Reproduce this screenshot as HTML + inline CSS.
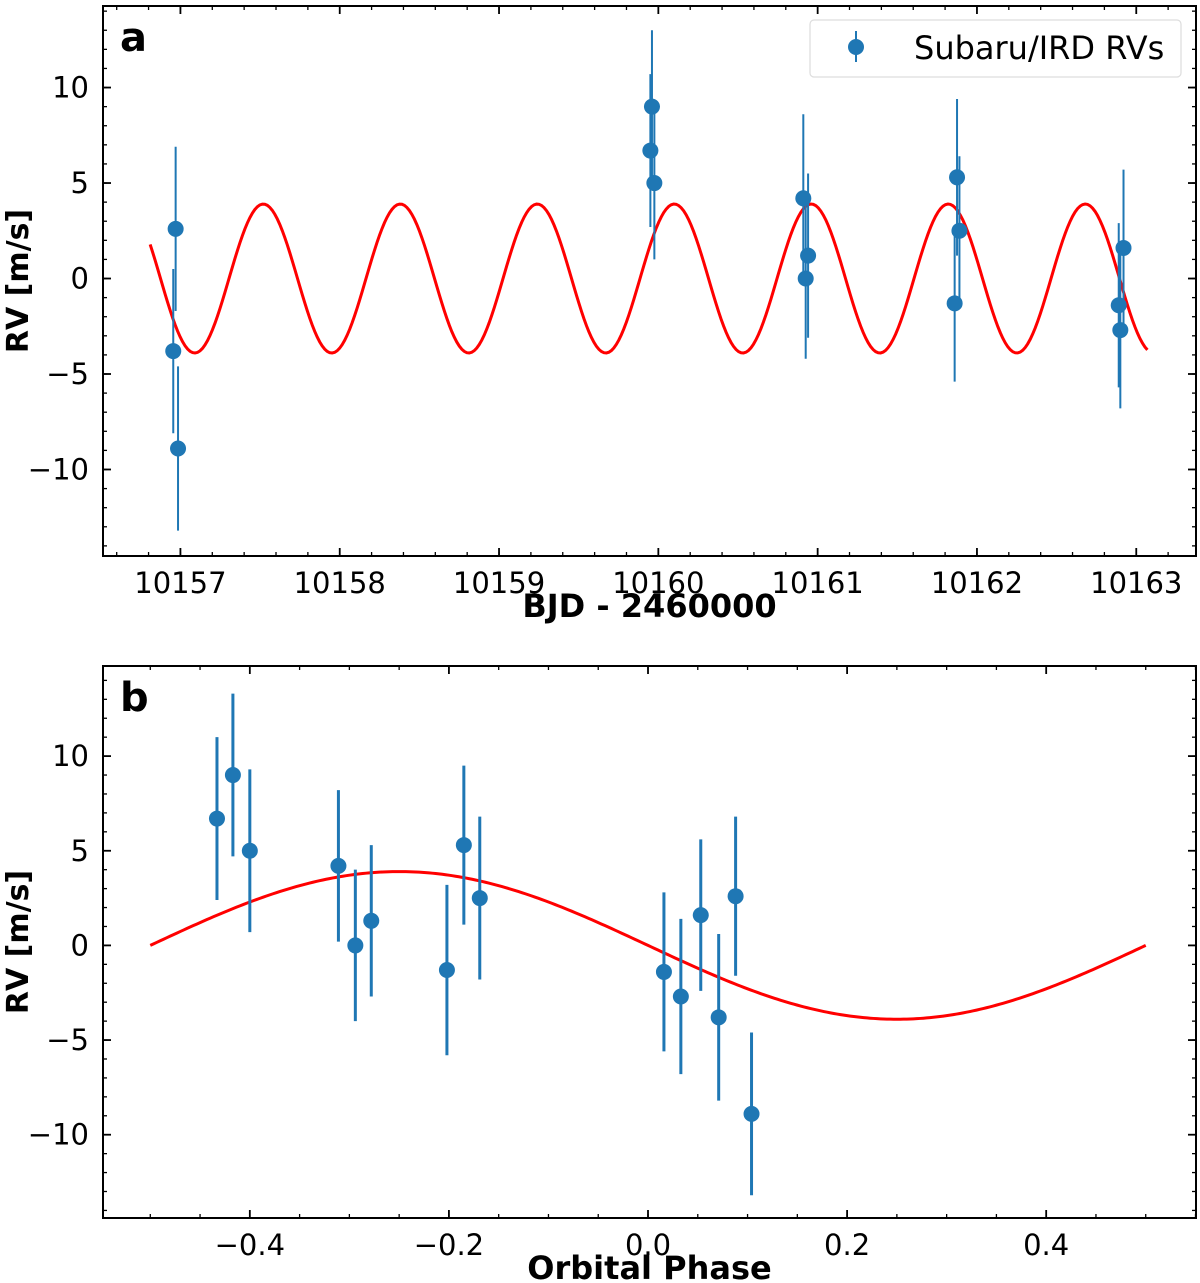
<!DOCTYPE html>
<html><head><meta charset="utf-8"><style>
body{margin:0;background:#fff;}
svg{display:block;font-family:"DejaVu Sans","Liberation Sans",sans-serif;}
</style></head><body>
<svg id="fig" width="1200" height="1283" viewBox="0 0 1200 1283" xmlns="http://www.w3.org/2000/svg"></svg>
<script>
// Panel a data
const aTimes=[10156.97,10156.955,10156.985,10159.95,10159.96,10159.975,10160.91,10160.94,10160.925,10161.86,10161.875,10161.89,10162.89,10162.90,10162.92];
const aRV=[2.6,-3.8,-8.9,6.7,9.0,5.0,4.2,1.2,0.0,-1.3,5.3,2.5,-1.4,-2.7,1.6];
const aErr=[4.3,4.3,4.3,4.0,4.0,4.0,4.4,4.3,4.2,4.1,4.1,3.9,4.3,4.1,4.1];
const aXTicks=[10157,10158,10159,10160,10161,10162,10163];
const yTicks=[-10,-5,0,5,10];
const model={K:3.9,P:0.86,tPeak:10157.52,tStart:10156.81,tEnd:10163.07};
// Panel b data
const bPhase=[-0.433,-0.417,-0.400,-0.311,-0.294,-0.278,-0.202,-0.185,-0.169,0.016,0.033,0.053,0.071,0.088,0.104];
const bRV=[6.7,9.0,5.0,4.2,0.0,1.3,-1.3,5.3,2.5,-1.4,-2.7,1.6,-3.8,2.6,-8.9];
const bErr=[4.3,4.3,4.3,4.0,4.0,4.0,4.5,4.2,4.3,4.2,4.1,4.0,4.4,4.2,4.3];
const bXTicks=[-0.4,-0.2,0.0,0.2,0.4];

const NS="http://www.w3.org/2000/svg";
const svg=document.getElementById('fig');
function mk(tag,attrs,parent){const e=document.createElementNS(NS,tag);for(const k in attrs)e.setAttribute(k,attrs[k]);(parent||svg).appendChild(e);return e;}
const BLUE="#1f77b4";
function fmt(v,dec){const s=Math.abs(v).toFixed(dec);return (v<0?"\u2212":"")+s;}

function panel(o){
  const g=mk('g',{});
  
  
  const X=v=>o.L+(v-o.xmin)/(o.xmax-o.xmin)*(o.R-o.L);
  const Y=v=>o.B-(v-o.ymin)/(o.ymax-o.ymin)*(o.B-o.T);
  for(let v=Math.ceil(o.xmin/o.xminor)*o.xminor;v<=o.xmax;v+=o.xminor){
    const x=X(v);
    mk('line',{x1:x,x2:x,y1:o.B,y2:o.B-4,stroke:'#000','stroke-width':1.3},g);
    mk('line',{x1:x,x2:x,y1:o.T,y2:o.T+4,stroke:'#000','stroke-width':1.3},g);
  }
  for(let v=Math.ceil(o.ymin);v<=o.ymax;v+=1){
    const y=Y(v);
    mk('line',{x1:o.L,x2:o.L+4,y1:y,y2:y,stroke:'#000','stroke-width':1.3},g);
    mk('line',{x1:o.R,x2:o.R-4,y1:y,y2:y,stroke:'#000','stroke-width':1.3},g);
  }
  o.xticks.forEach(v=>{
    const x=X(v);
    const t=mk('line',{x1:x,x2:x,y1:o.B,y2:o.B-8,stroke:'#000','stroke-width':1.8},g);
    
    
    mk('line',{x1:x,x2:x,y1:o.T,y2:o.T+8,stroke:'#000','stroke-width':1.8},g);
    const lb=mk('text',{x:x,y:o.B+37,'font-size':29,'text-anchor':'middle',fill:'#000'},g);
    lb.textContent=fmt(v,o.xdec);
    
    
  });
  yTicks.forEach(v=>{
    const y=Y(v);
    mk('line',{x1:o.L,x2:o.L+8,y1:y,y2:y,stroke:'#000','stroke-width':1.8},g);
    mk('line',{x1:o.R,x2:o.R-8,y1:y,y2:y,stroke:'#000','stroke-width':1.8},g);
    const lb=mk('text',{x:o.L-14,y:y+10,'font-size':29,'text-anchor':'end',fill:'#000'},g);
    lb.textContent=fmt(v,0);
    
    
  });
  let d='';
  for(let i=0;i<=o.nCurve;i++){
    const xv=o.c0+(o.c1-o.c0)*i/o.nCurve;
    d+=(i?'L':'M')+X(xv).toFixed(2)+' '+Y(o.f(xv)).toFixed(2);
  }
  const c=mk('path',{d:d,fill:'none',stroke:'#ff0000','stroke-width':3},g);
  
  
  o.xs.forEach((xv,i)=>{
    const x=X(xv);
    const e=mk('line',{x1:x,x2:x,y1:Y(o.ys[i]+o.es[i]),y2:Y(o.ys[i]-o.es[i]),stroke:BLUE,'stroke-width':o.ew},g);
    
    
  });
  o.xs.forEach((xv,i)=>{
    const p=mk('circle',{cx:X(xv),cy:Y(o.ys[i]),r:8,fill:BLUE},g);
    
    
  });
  const fr=mk('rect',{x:o.L,y:o.T,width:o.R-o.L,height:o.B-o.T,fill:'none',stroke:'#000','stroke-width':2},g);
  
  
  const pl=mk('text',{x:o.L+17,y:o.T+45,'font-size':40,'font-weight':'bold',fill:'#000'},g);
  pl.textContent=o.letter;
  
  
  const xt=mk('text',{x:(o.L+o.R)/2,y:o.B+61,'font-size':32,'font-weight':'bold','text-anchor':'middle',fill:'#000'},g);
  xt.textContent=o.xlabel;
  
  
  const cy=(o.T+o.B)/2;
  const yt=mk('text',{x:28,y:cy,'font-size':30,'font-weight':'bold','text-anchor':'middle',fill:'#000',transform:`rotate(-90 28 ${cy})`},g);
  yt.textContent='RV [m/s]';
  
  
}

panel({name:'panel-a-time-series',L:103,R:1196,T:6,B:556,xmin:10156.514,xmax:10163.375,ymin:-14.53,ymax:14.27,
  xticks:aXTicks,xminor:0.2,xdec:0,xs:aTimes,ys:aRV,es:aErr,ew:2,letter:'a',xlabel:'BJD - 2460000',
  c0:model.tStart,c1:model.tEnd,nCurve:400,f:t=>model.K*Math.cos(2*Math.PI*(t-model.tPeak)/model.P)});
panel({name:'panel-b-phase-folded',L:103,R:1196,T:666,B:1218,xmin:-0.5475,xmax:0.5505,ymin:-14.4,ymax:14.76,
  xticks:bXTicks,xminor:0.05,xdec:1,xs:bPhase,ys:bRV,es:bErr,ew:3,letter:'b',xlabel:'Orbital Phase',
  c0:-0.5,c1:0.5,nCurve:300,f:p=>-model.K*Math.sin(2*Math.PI*p)});

const lg=mk('g',{});


mk('rect',{x:810,y:20,width:371,height:57,rx:4,fill:'#fff',stroke:'#ddd','stroke-width':1.2},lg);
mk('line',{x1:856,x2:856,y1:31,y2:62,stroke:BLUE,'stroke-width':2},lg);
mk('circle',{cx:856,cy:47,r:8,fill:BLUE},lg);
const lt=mk('text',{x:914,y:59,'font-size':32,fill:'#000'},lg);
lt.textContent='Subaru/IRD RVs';


</script>
</body></html>
